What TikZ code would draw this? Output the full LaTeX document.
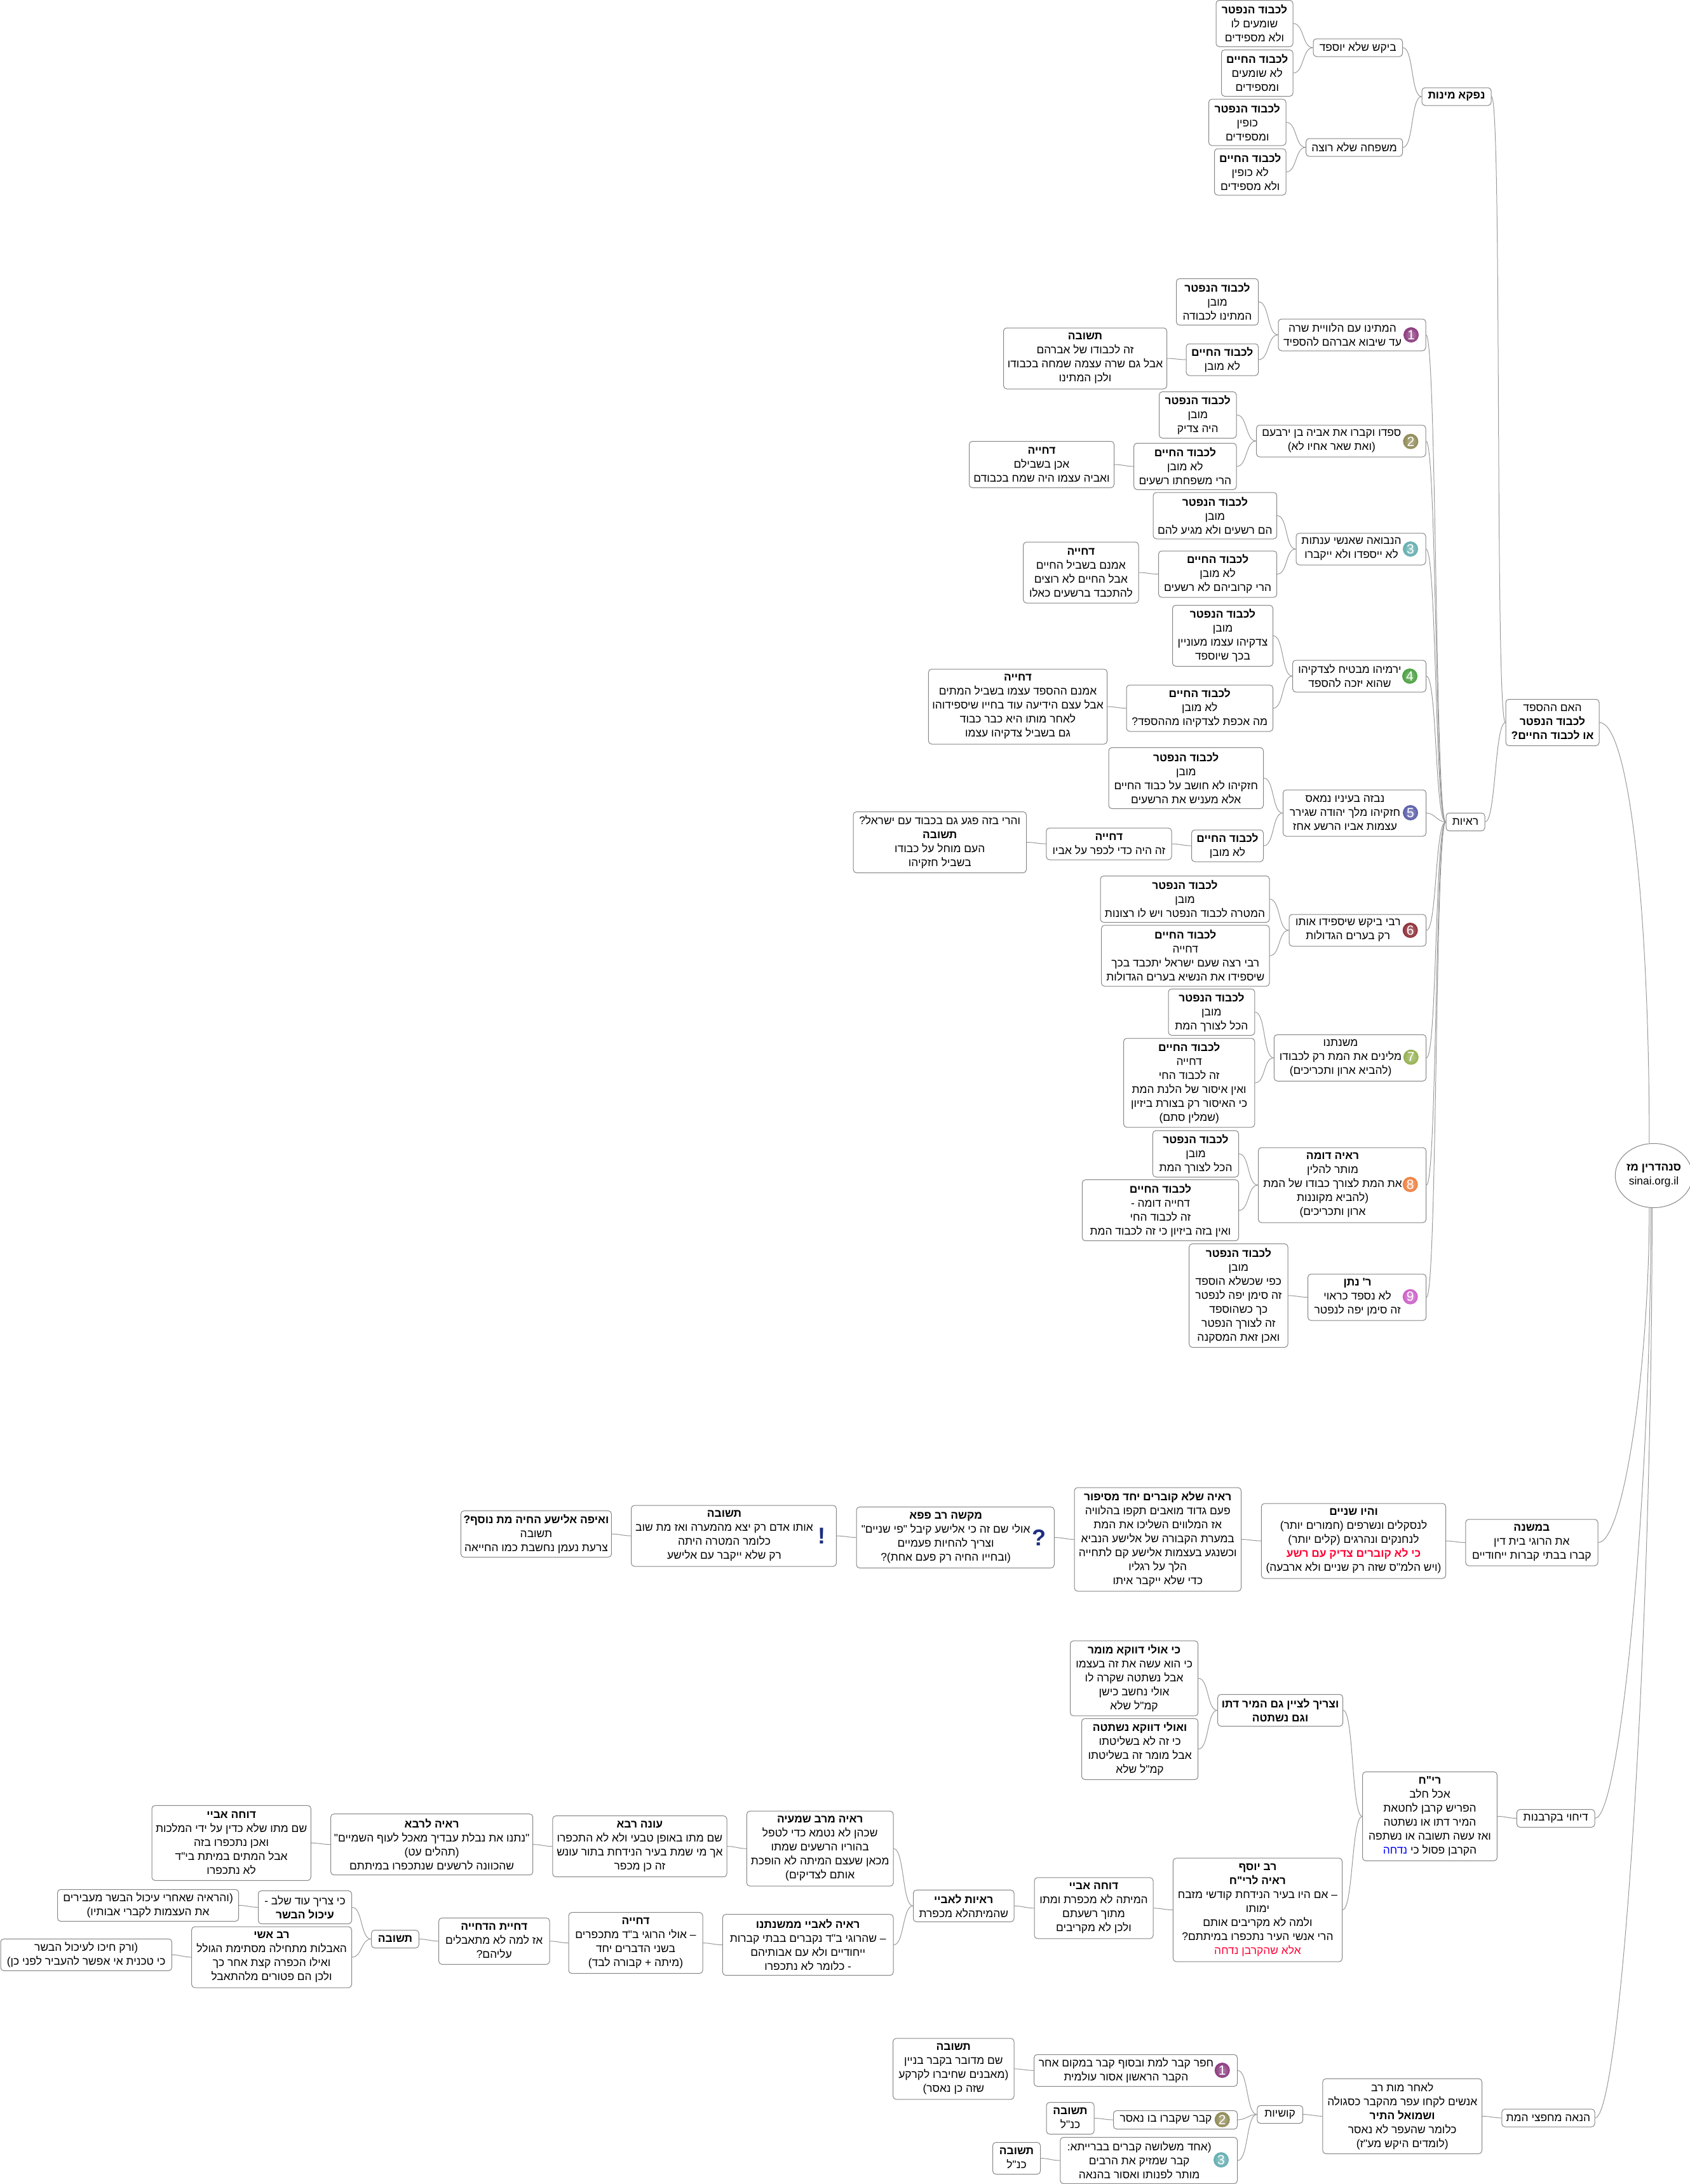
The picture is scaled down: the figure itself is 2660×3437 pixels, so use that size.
\documentclass[tikz,border=0pt]{standalone}
\usepackage{fontspec}
\usepackage{xcolor}
\usetikzlibrary{shapes.geometric,positioning}
\newfontfamily\hefont[Script=Hebrew]{Liberation Sans}
\TeXXeTstate=1
\definecolor{boxgray}{HTML}{868686}
\definecolor{linkgray}{HTML}{999999}
\definecolor{alertred}{HTML}{FF0033}
\definecolor{noteblue}{HTML}{0000FF}
\definecolor{markblue}{HTML}{1C2E80}
\newcommand{\heb}[1]{\beginR #1\endR}
\newcommand{\hebb}[1]{\beginR\textbf{#1}\endR}
\newcommand{\hebp}[1]{\beginR #1\endR\rule{30pt}{0pt}}
\newcommand{\nft}{\hebb{לכבוד הנפטר}}
\newcommand{\hym}{\hebb{לכבוד החיים}}
\newcommand{\tsh}{\hebb{תשובה}}
\newcommand{\dhy}{\hebb{דחייה}}
\tikzset{
  topicbox/.style={draw=boxgray, line width=1pt, rounded corners=5pt, align=center, inner sep=0pt, font=\hefont\fontsize{17.4}{22}\selectfont},
  boxsize/.style 2 args={minimum width=#1pt, minimum height=#2pt},
  centerbox/.style={ellipse, draw=boxgray, line width=1pt, align=center, inner sep=0pt, minimum width=113pt, minimum height=101pt, font=\hefont\fontsize{17.4}{22}\selectfont},
  badge/.style={circle, minimum size=24pt, inner sep=0pt, text=white, font=\hefont\fontsize{21}{21}\selectfont},
  signmark/.style={inner sep=0pt, text=markblue, font=\hefont\bfseries\fontsize{36}{36}\selectfont},
  rootlink/.style={draw=linkgray, line width=1pt},
  link/.style={draw=linkgray, line width=1pt, out=0, in=180, max distance=17pt},
}
\begin{document}
\begin{tikzpicture}[x=1pt, y=-1pt]
    \useasboundingbox (0,0) rectangle (2660,3437);
    \node[centerbox] (root) at (2603,1850) {\hebb{סנהדרין מז}\\sinai.org.il};
    % upper branch
    \node[topicbox, boxsize={147}{73}] (hesped) at (2443.5,1137) {\heb{האם ההספד}\\\nft\\\hebb{או לכבוד החיים?}};
    \node[topicbox, boxsize={109}{28}] (minut) at (2292.5,152) {\hebb{נפקא מינות}};
    \node[topicbox, boxsize={140.5}{28}] (biqesh) at (2137.25,75) {\heb{ביקש שלא יוספד}};
    \node[topicbox, boxsize={152}{28}] (mishpaha) at (2131.6,232) {\heb{משפחה שלא רוצה}};
    \node[topicbox, boxsize={121}{73}] (biqeshA) at (1974.5,37) {\nft\\\heb{שומעים לו}\\\heb{ולא מספידים}};
    \node[topicbox, boxsize={112.5}{73}] (biqeshB) at (1978.75,115) {\hym\\\heb{לא שומעים}\\\heb{ומספידים}};
    \node[topicbox, boxsize={121.5}{73}] (mishpahaA) at (1963.25,192.5) {\nft\\\heb{כופין}\\\heb{ומספידים}};
    \node[topicbox, boxsize={112.5}{73}] (mishpahaB) at (1967.75,270.5) {\hym\\\heb{לא כופין}\\\heb{ולא מספידים}};
    \node[topicbox, boxsize={61}{28}] (reayot) at (2306.5,1293.5) {\heb{ראיות}};
    % proofs 1-9
    \node[topicbox, boxsize={232}{50}] (proofA) at (2128,527) {\hebp{המתינו עם הלוויית שרה}\\\hebp{עד שיבוא אברהם להספיד}};
    \node[topicbox, boxsize={129}{73}] (proofAa) at (1916,475) {\nft\\\heb{מובן}\\\heb{המתינו לכבודה}};
    \node[topicbox, boxsize={113.6}{50}] (proofAb) at (1923.8,566) {\hym\\\heb{לא מובן}};
    \node[topicbox, boxsize={257}{96}] (proofAc) at (1708,564) {\tsh\\\heb{זה לכבודו של אברהם}\\\heb{אבל גם שרה עצמה שמחה בכבודו}\\\heb{ולכן המתינו}};
    \node[topicbox, boxsize={266.4}{50}] (proofB) at (2110.8,694) {\hebp{ספדו וקברו את אביה בן ירבעם}\\\hebp{(ואת שאר אחיו לא)}};
    \node[topicbox, boxsize={121.5}{73}] (proofBa) at (1885.25,653) {\nft\\\heb{מובן}\\\heb{היה צדיק}};
    \node[topicbox, boxsize={161.3}{73}] (proofBb) at (1865.35,734) {\hym\\\heb{לא מובן}\\\heb{הרי משפחתו רשעים}};
    \node[topicbox, boxsize={228}{73}] (proofBc) at (1639.5,731) {\dhy\\\heb{אכן בשבילם}\\\heb{ואביה עצמו היה שמח בכבודם}};
    \node[topicbox, boxsize={204}{50}] (proofC) at (2142,864) {\hebp{הנבואה שאנשי ענתות}\\\hebp{לא ייספדו ולא ייקברו}};
    \node[topicbox, boxsize={194.7}{73}] (proofCa) at (1912.35,811.5) {\nft\\\heb{מובן}\\\heb{הם רשעים ולא מגיע להם}};
    \node[topicbox, boxsize={186.2}{73}] (proofCb) at (1916.6,903.5) {\hym\\\heb{לא מובן}\\\heb{הרי קרוביהם לא רשעים}};
    \node[topicbox, boxsize={181.3}{96}] (proofCc) at (1701.35,901) {\dhy\\\heb{אמנם בשביל החיים}\\\heb{אבל החיים לא רוצים}\\\heb{להתכבד ברשעים כאלו}};
    \node[topicbox, boxsize={210}{50}] (proofD) at (2139.5,1064) {\hebp{ירמיהו מבטיח לצדקיהו}\\\hebp{שהוא יזכה להספד}};
    \node[topicbox, boxsize={158}{96}] (proofDa) at (1924.5,1000.5) {\nft\\\heb{מובן}\\\heb{צדקיהו עצמו מעוניין}\\\heb{בכך שיוספד}};
    \node[topicbox, boxsize={230.5}{73}] (proofDb) at (1888.25,1114.5) {\hym\\\heb{לא מובן}\\\heb{מה אכפת לצדקיהו מההספד?}};
    \node[topicbox, boxsize={281.2}{118}] (proofDc) at (1602,1112) {\dhy\\\heb{אמנם ההספד עצמו בשביל המתים}\\\heb{אבל עצם הידיעה עוד בחייו שיספידוהו}\\\heb{לאחר מותו היא כבר כבוד}\\\heb{גם בשביל צדקיהו עצמו}};
    \node[topicbox, boxsize={225}{73}] (proofE) at (2132,1279.5) {\hebp{נבזה בעיניו נמאס}\\\hebp{חזקיהו מלך יהודה שגירר}\\\hebp{עצמות אביו הרשע אחז}};
    \node[topicbox, boxsize={243.5}{96}] (proofEa) at (1866.75,1224.5) {\nft\\\heb{מובן}\\\heb{חזקיהו לא חושב על כבוד החיים}\\\heb{אלא מעניש את הרשעים}};
    \node[topicbox, boxsize={113}{50}] (proofEb) at (1932,1331) {\hym\\\heb{לא מובן}};
    \node[topicbox, boxsize={197.2}{50}] (proofEc) at (1745.4,1328) {\dhy\\\heb{זה היה כדי לכפר על אביו}};
    \node[topicbox, boxsize={272.5}{96}] (proofEd) at (1479.25,1325.5) {\heb{והרי בזה פגע גם בכבוד עם ישראל?}\\\tsh\\\heb{העם מוחל על כבודו}\\\heb{בשביל חזקיהו}};
    \node[topicbox, boxsize={215.5}{50}] (proofF) at (2136.75,1464) {\hebp{רבי ביקש שיספידו אותו}\\\hebp{רק בערים הגדולות}};
    \node[topicbox, boxsize={266}{73}] (proofFa) at (1865,1415) {\nft\\\heb{מובן}\\\heb{המטרה לכבוד הנפטר ויש לו רצונות}};
    \node[topicbox, boxsize={264.4}{96}] (proofFb) at (1865.8,1504) {\hym\\\heb{דחייה}\\\heb{רבי רצה שעם ישראל יתכבד בכך}\\\heb{שיספידו את הנשיא בערים הגדולות}};
    \node[topicbox, boxsize={239.2}{73}] (proofG) at (2125,1664.75) {\hebp{משנתנו}\\\hebp{מלינים את המת רק לכבודו}\\\hebp{(להביא ארון ותכריכים)}};
    \node[topicbox, boxsize={135.8}{73}] (proofGa) at (1906.9,1592.75) {\nft\\\heb{מובן}\\\heb{הכל לצורך המת}};
    \node[topicbox, boxsize={206.3}{140}] (proofGb) at (1871.65,1704) {\hym\\\heb{דחייה}\\\heb{זה לכבוד החי}\\\heb{ואין איסור של הלנת המת}\\\heb{כי האיסור רק בצורת ביזיון}\\\heb{(שמלין סתם)}};
    \node[topicbox, boxsize={264.1}{118}] (proofH) at (2112.55,1865) {\hebp{\textbf{ראיה דומה}}\\\hebp{מותר להלין}\\\hebp{את המת לצורך כבודו של המת}\\\hebp{(להביא מקוננות}\\\hebp{ארון ותכריכים)}};
    \node[topicbox, boxsize={135.1}{73}] (proofHa) at (1882,1815.75) {\nft\\\heb{מובן}\\\heb{הכל לצורך המת}};
    \node[topicbox, boxsize={246.1}{96}] (proofHb) at (1826.45,1904.7) {\hym\\\heb{דחייה דומה -}\\\heb{זה לכבוד החי}\\\heb{ואין בזה ביזיון כי זה לכבוד המת}};
    \node[topicbox, boxsize={186.2}{73}] (proofI) at (2151.6,2041.5) {\hebp{\textbf{ר' נתן}}\\\hebp{לא נספד כראוי}\\\hebp{זה סימן יפה לנפטר}};
    \node[topicbox, boxsize={155.3}{163}] (proofIa) at (1949.35,2038.85) {\nft\\\heb{מובן}\\\heb{כפי שכשלא הוספד}\\\heb{זה סימן יפה לנפטר}\\\heb{כך כשהוספד}\\\heb{זה לצורך הנפטר}\\\heb{ואכן זאת המסקנה}};
    % mishna branch
    \node[topicbox, boxsize={208.2}{73}] (mishna) at (2410.9,2427.5) {\hebb{במשנה}\\\heb{את הרוגי בית דין}\\\heb{קברו בבתי קברות ייחודיים}};
    \node[topicbox, boxsize={290.2}{118}] (shnayim) at (2130.5,2425) {\hebb{והיו שניים}\\\heb{לנסקלים ונשרפים (חמורים יותר)}\\\heb{לנחנקים ונהרגים (קלים יותר)}\\\textcolor{alertred}{\hebb{כי לא קוברים צדיק עם רשע}}\\\heb{(ויש הלמ"ס שזה רק שניים ולא ארבעה)}};
    \node[topicbox, boxsize={262.5}{163}] (sipur) at (1822.25,2422.5) {\hebb{ראיה שלא קוברים יחד מסיפור}\\\heb{פעם גדוד מואבים תקפו בהלוויה}\\\heb{אז המלווים השליכו את המת}\\\heb{במערת הקבורה של אלישע הנביא}\\\heb{וכשנגע בעצמות אלישע קם לתחייה}\\\heb{הלך על רגליו}\\\heb{כדי שלא ייקבר איתו}};
    \node[topicbox, boxsize={311.3}{96}] (papa) at (1503.65,2419.5) {\hebp{\textbf{מקשה רב פפא}}\\\hebp{אולי שם זה כי אלישע קיבל "פי שניים"}\\\hebp{וצריך להחיות פעמיים}\\\hebp{(ובחייו החיה רק פעם אחת)?}};
    \node[topicbox, boxsize={322.7}{96}] (papaAns) at (1155,2417) {\hebp{\textbf{תשובה}}\\\hebp{אותו אדם רק יצא מהמערה ואז מת שוב}\\\hebp{כלומר המטרה היתה}\\\hebp{רק שלא ייקבר עם אלישע}};
    \node[topicbox, boxsize={237}{73}] (naaman) at (843.9,2414) {\hebb{ואיפה אלישע החיה מת נוסף?}\\\heb{תשובה}\\\heb{צרעת נעמן נחשבת כמו החייאה}};
    % korban branch
    \node[topicbox, boxsize={122.6}{28}] (dichuy) at (2448.7,2861.5) {\heb{דיחוי בקרבנות}};
    \node[topicbox, boxsize={211.8}{140}] (rych) at (2250.5,2858.4) {\hebb{רי"ח}\\\heb{אכל חלב}\\\heb{הפריש קרבן לחטאת}\\\heb{המיר דתו או נשתטה}\\\heb{ואז עשה תשובה או נשתפה}\\\textcolor{noteblue}{\heb{נדחה}} \heb{הקרבן פסול כי}};
    \node[topicbox, boxsize={196.8}{50}] (tzarich) at (2015.1,2691.5) {\hebb{וצריך לציין גם המיר דתו}\\\hebb{וגם נשתטה}};
    \node[topicbox, boxsize={201.2}{118}] (mumar) at (1785.1,2641.2) {\hebb{כי אולי דווקא מומר}\\\heb{כי הוא עשה את זה בעצמו}\\\heb{אבל נשתטה שקרה לו}\\\heb{אולי נחשב כישן}\\\heb{קמ"ל שלא}};
    \node[topicbox, boxsize={183.2}{96}] (nishtata) at (1794.1,2752.5) {\hebb{ואולי דווקא נשתטה}\\\heb{כי זה לא בשליטתו}\\\heb{אבל מומר זה בשליטתו}\\\heb{קמ"ל שלא}};
    \node[topicbox, boxsize={266.1}{163}] (yosef) at (1979.45,3005.65) {\hebb{רב יוסף}\\\hebb{ראיה לרי"ח}\\\heb{– אם היו בעיר הנידחת קודשי מזבח}\\\heb{ימותו}\\\heb{ולמה לא מקריבים אותם}\\\heb{הרי אנשי העיר נתכפרו במיתתם?}\\\textcolor{alertred}{\heb{אלא שהקרבן נדחה}}};
    \node[topicbox, boxsize={187}{96}] (abaye) at (1721.5,3002.85) {\hebb{דוחה אביי}\\\heb{המיתה לא מכפרת ומתו}\\\heb{מתוך רשעתם}\\\heb{ולכן לא מקריבים}};
    \node[topicbox, boxsize={158.5}{50}] (abayeProof) at (1516.75,2999.35) {\hebb{ראיות לאביי}\\\heb{שהמיתהלא מכפרת}};
    \node[topicbox, boxsize={230.6}{118}] (shmaya) at (1290.7,2909.15) {\hebb{ראיה מרב שמעיה}\\\heb{שכהן לא נטמא כדי לטפל}\\\heb{בהוריו הרשעים שמתו}\\\heb{מכאן שעצם המיתה לא הופכת}\\\heb{אותם לצדיקים)}};
    \node[topicbox, boxsize={274.2}{96}] (rava) at (1006.9,2905.65) {\hebb{עונה רבא}\\\heb{שם מתו באופן טבעי ולא לא התכפרו}\\\heb{אך מי שמת בעיר הנידחת בתור עונש}\\\heb{זה כן מכפר}};
    \node[topicbox, boxsize={318.1}{96}] (ravaProof) at (679.65,2902.65) {\hebb{ראיה לרבא}\\\heb{"נתנו את נבלת עבדיך מאכל לעוף השמיים"}\\\heb{(תהלים עט)}\\\heb{שהכוונה לרשעים שנתכפרו במיתתם}};
    \node[topicbox, boxsize={250.3}{118}] (abayeB) at (364.15,2900.3) {\hebb{דוחה אביי}\\\heb{שם מתו שלא כדין על ידי המלכות}\\\heb{ואכן נתכפרו בזה}\\\heb{אבל המתים במיתת בי"ד}\\\heb{לא נתכפרו}};
    \node[topicbox, boxsize={268.6}{96}] (mishnatenu) at (1271.7,3060.65) {\hebb{ראיה לאביי ממשנתנו}\\\heb{– שהרוגי ב"ד נקברים בבתי קברות}\\\heb{ייחודיים ולא עם אבותיהם}\\\heb{- כלומר לא נתכפרו}};
    \node[topicbox, boxsize={211}{96}] (dchiya) at (1000.5,3057.65) {\dhy\\\heb{– אולי הרוגי ב"ד מתכפרים}\\\heb{בשני הדברים יחד}\\\heb{(מיתה + קבורה לבד)}};
    \node[topicbox, boxsize={174.4}{73}] (dchiyaB) at (777.8,3054.8) {\hebb{דחיית הדחייה}\\\heb{אז למה לא מתאבלים}\\\heb{עליהם?}};
    \node[topicbox, boxsize={74.6}{28}] (ikulAns) at (622,3051.5) {\tsh};
    \node[topicbox, boxsize={147}{52}] (ikul) at (480,3001.5) {\heb{כי צריך עוד שלב -}\\\hebb{עיכול הבשר}};
    \node[topicbox, boxsize={285.2}{50}] (ikulProof) at (233.1,2998.5) {\heb{(והראיה שאחרי עיכול הבשר מעבירים}\\\heb{את העצמות לקברי אבותיו)}};
    \node[topicbox, boxsize={251.8}{96}] (ashi) at (427.6,3080) {\hebb{רב אשי}\\\heb{האבלות מתחילה מסתימת הגולל}\\\heb{ואילו הכפרה קצת אחר כך}\\\heb{ולכן הם פטורים מלהתאבל}};
    \node[topicbox, boxsize={269.4}{50}] (ashiNote) at (135.7,3076.3) {\heb{(ורק חיכו לעיכול הבשר}\\\heb{כי טכנית אי אפשר להעביר לפני כן)}};
    % benefit branch
    \node[topicbox, boxsize={146.25}{28}] (hanaa) at (2436.9,3333) {\heb{הנאה מחפצי המת}};
    \node[topicbox, boxsize={250.6}{118}] (rav) at (2207.2,3330.3) {\heb{לאחר מות רב}\\\heb{אנשים לקחו עפר מהקבר כסגולה}\\\hebb{ושמואל התיר}\\\heb{כלומר שהעפר לא נאסר}\\\heb{(לומדים היקש מע"ז)}};
    \node[topicbox, boxsize={71.8}{28}] (qushyot) at (2014.7,3327.5) {\heb{קושיות}};
    \node[topicbox, boxsize={320}{50}] (qushyaA) at (1787.5,3258.3) {\hebp{חפר קבר למת ובסוף קבר במקום אחר}\\\hebp{הקבר הראשון אסור עולמית}};
    \node[topicbox, boxsize={190.4}{96}] (qushyaAans) at (1500.8,3255.8) {\tsh\\\heb{שם מדובר בקבר בניין}\\\heb{(מאבנים שחיברו לקרקע}\\\heb{שזה כן נאסר)}};
    \node[topicbox, boxsize={195}{29}] (qushyaB) at (1850,3336) {\hebp{קבר שקברו בו נאסר}};
    \node[topicbox, boxsize={75}{50}] (qushyaBans) at (1684.5,3333.5) {\tsh\\\heb{כנ"ל}};
    \node[topicbox, boxsize={278.7}{73}] (qushyaC) at (1808.15,3400) {\hebp{(אחד משלושה קברים בברייתא:}\\\hebp{קבר שמזיק את הרבים}\\\hebp{מותר לפנותו ואסור בהנאה}};
    \node[topicbox, boxsize={75}{50}] (qushyaCans) at (1600,3396.5) {\tsh\\\heb{כנ"ל}};
    % number badges
    \foreach \n/\col/\x/\y in {1/8A3A7E/2221/527, 2/8F8A55/2220.4/694.7, 3/64AEB0/2220/864, 4/4AA040/2219/1064, 5/5A5EA8/2220/1279, 6/8E2F38/2219.7/1464, 7/94B050/2220.8/1663.7, 8/EE8040/2219.7/1864, 9/CC60C8/2219.7/2040.7} {
        \definecolor{badgecol}{HTML}{\col}
        \node[badge, shade, inner color=badgecol!65!white, outer color=badgecol] (badgeP\n) at (\x,\y) {\n};
    }
    \foreach \n/\col/\x/\y in {1/8A3A7E/1923.75/3258, 2/8F8A55/1923.75/3335.7, 3/64AEB0/1922/3399} {
        \definecolor{badgecol}{HTML}{\col}
        \node[badge, shade, inner color=badgecol!65!white, outer color=badgecol] (badgeQ\n) at (\x,\y) {\n};
    }
    \node[signmark] (qmark) at (1635,2420) {?};
    \node[signmark] (xmark) at (1293.7,2417) {!};
    % connectors, child first
    \foreach \kid/\parent in {biqeshA/biqesh, biqeshB/biqesh, mishpahaA/mishpaha, mishpahaB/mishpaha, biqesh/minut, mishpaha/minut, minut/hesped, reayot/hesped,
        proofA/reayot, proofB/reayot, proofC/reayot, proofD/reayot, proofE/reayot, proofF/reayot, proofG/reayot, proofH/reayot, proofI/reayot,
        proofAa/proofA, proofAb/proofA, proofAc/proofAb, proofBa/proofB, proofBb/proofB, proofBc/proofBb, proofCa/proofC, proofCb/proofC, proofCc/proofCb,
        proofDa/proofD, proofDb/proofD, proofDc/proofDb, proofEa/proofE, proofEb/proofE, proofEc/proofEb, proofEd/proofEc, proofFa/proofF, proofFb/proofF,
        proofGa/proofG, proofGb/proofG, proofHa/proofH, proofHb/proofH, proofIa/proofI,
        shnayim/mishna, sipur/shnayim, papa/sipur, papaAns/papa, naaman/papaAns,
        rych/dichuy, tzarich/rych, yosef/rych, mumar/tzarich, nishtata/tzarich, abaye/yosef, abayeProof/abaye, shmaya/abayeProof, mishnatenu/abayeProof,
        rava/shmaya, ravaProof/rava, abayeB/ravaProof, dchiya/mishnatenu, dchiyaB/dchiya, ikulAns/dchiyaB, ikul/ikulAns, ashi/ikulAns, ikulProof/ikul, ashiNote/ashi,
        rav/hanaa, qushyot/rav, qushyaA/qushyot, qushyaB/qushyot, qushyaC/qushyot, qushyaAans/qushyaA, qushyaBans/qushyaB, qushyaCans/qushyaC} {
        \draw[link] (\kid.east) to (\parent.west);
    }
    \draw[rootlink] (hesped.east) .. controls +(45,0) and +(0,-380) .. (root.98);
    \draw[rootlink] (mishna.east) .. controls +(40,0) and +(0,250) .. (root.262);
    \draw[rootlink] (dichuy.east) .. controls +(40,0) and +(0,450) .. (root.265);
    \draw[rootlink] (hanaa.east) .. controls +(40,0) and +(0,700) .. (root.267);
\end{tikzpicture}
\end{document}
